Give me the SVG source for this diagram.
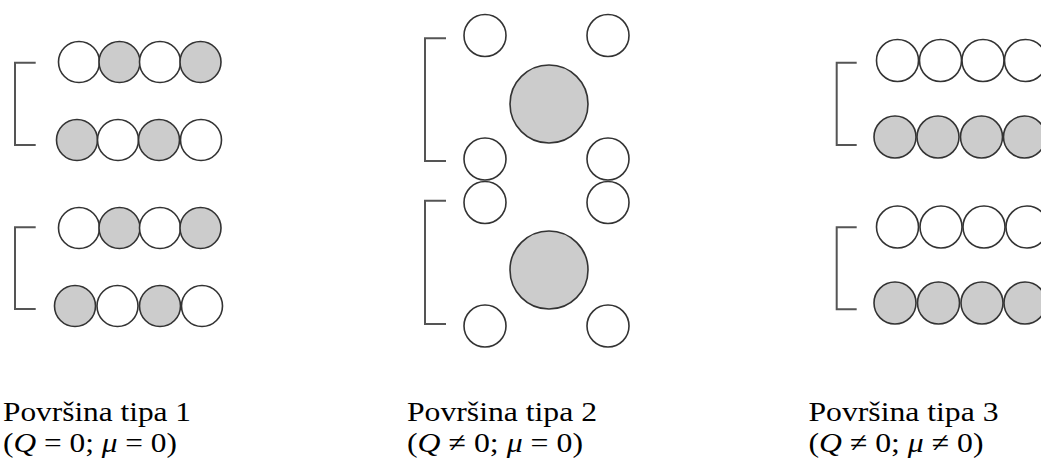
<svg xmlns="http://www.w3.org/2000/svg" width="1041" height="465" viewBox="0 0 1041 465">
<style>
.c{fill:#ffffff;stroke:#333333;stroke-width:1.6}
.g{fill:#cccccc;stroke:#333333;stroke-width:1.6}
.br{fill:none;stroke:#555555;stroke-width:2}
.t{font-family:"Liberation Serif","Times New Roman",serif;font-size:28px;fill:#000000}
.i{font-style:italic}
</style>
<rect width="1041" height="465" fill="#ffffff"/>
<g id="connectors">
<path class="br" d="M35.7,62.7 H15 V145 H35.7"/>
<path class="br" d="M35.7,227.3 H15 V309 H35.7"/>
<path class="br" d="M446,38.3 H425 V161 H446"/>
<path class="br" d="M446,200.7 H425 V324 H446"/>
<path class="br" d="M856.7,62.7 H836.7 V145 H856.7"/>
<path class="br" d="M856.7,227.3 H836.7 V309.3 H856.7"/>
</g>
<g id="tip1-top">
<circle class="c" cx="79" cy="62" r="20.5"/>
<circle class="g" cx="119.5" cy="62" r="20.5"/>
<circle class="c" cx="160" cy="62" r="20.5"/>
<circle class="g" cx="200.5" cy="62" r="20.5"/>
<circle class="g" cx="77" cy="140" r="20.5"/>
<circle class="c" cx="118" cy="140" r="20.5"/>
<circle class="g" cx="159" cy="140" r="20.5"/>
<circle class="c" cx="201" cy="140" r="20.5"/>
</g>
<g id="tip1-bottom">
<circle class="c" cx="79" cy="228" r="20.5"/>
<circle class="g" cx="119.5" cy="228" r="20.5"/>
<circle class="c" cx="160" cy="228" r="20.5"/>
<circle class="g" cx="200.5" cy="228" r="20.5"/>
<circle class="g" cx="75" cy="306" r="20.5"/>
<circle class="c" cx="117.5" cy="306" r="20.5"/>
<circle class="g" cx="160" cy="306" r="20.5"/>
<circle class="c" cx="202" cy="306" r="20.5"/>
</g>
<g id="tip2-top">
<circle class="c" cx="485" cy="35.5" r="21"/>
<circle class="c" cx="608" cy="35.5" r="21"/>
<circle class="g" cx="549" cy="104" r="39"/>
<circle class="c" cx="485" cy="159" r="21"/>
<circle class="c" cx="608" cy="159" r="21"/>
</g>
<g id="tip2-bottom">
<circle class="c" cx="485" cy="202.5" r="21"/>
<circle class="c" cx="608" cy="202.5" r="21"/>
<circle class="g" cx="549" cy="270" r="39"/>
<circle class="c" cx="485" cy="326" r="21"/>
<circle class="c" cx="608" cy="326" r="21"/>
</g>
<g id="tip3-top">
<circle class="c" cx="897.5" cy="60.5" r="21"/>
<circle class="c" cx="940.5" cy="60.5" r="21"/>
<circle class="c" cx="983" cy="60.5" r="21"/>
<circle class="c" cx="1025.5" cy="60.5" r="21"/>
<circle class="g" cx="895" cy="137" r="21"/>
<circle class="g" cx="938" cy="137" r="21"/>
<circle class="g" cx="981.5" cy="137" r="21"/>
<circle class="g" cx="1024.5" cy="137" r="21"/>
</g>
<g id="tip3-bottom">
<circle class="c" cx="897.5" cy="227" r="21"/>
<circle class="c" cx="941" cy="227" r="21"/>
<circle class="c" cx="984" cy="227" r="21"/>
<circle class="c" cx="1027" cy="227" r="21"/>
<circle class="g" cx="895" cy="303" r="21"/>
<circle class="g" cx="938.5" cy="303" r="21"/>
<circle class="g" cx="982" cy="303" r="21"/>
<circle class="g" cx="1025" cy="303" r="21"/>
</g>
<g id="label1">
<text class="t" x="3" y="421" textLength="188" lengthAdjust="spacingAndGlyphs">Površina tipa 1</text>
<text class="t" x="3" y="452" textLength="174" lengthAdjust="spacingAndGlyphs">(<tspan class="i">Q</tspan> = 0; <tspan class="i">μ</tspan> = 0)</text>
</g>
<g id="label2">
<text class="t" x="407" y="421" textLength="190" lengthAdjust="spacingAndGlyphs">Površina tipa 2</text>
<text class="t" x="407" y="452" textLength="176" lengthAdjust="spacingAndGlyphs">(<tspan class="i">Q</tspan> ≠ 0; <tspan class="i">μ</tspan> = 0)</text>
</g>
<g id="label3">
<text class="t" x="808.5" y="421" textLength="190" lengthAdjust="spacingAndGlyphs">Površina tipa 3</text>
<text class="t" x="808.5" y="452" textLength="175" lengthAdjust="spacingAndGlyphs">(<tspan class="i">Q</tspan> ≠ 0; <tspan class="i">μ</tspan> ≠ 0)</text>
</g>
</svg>
